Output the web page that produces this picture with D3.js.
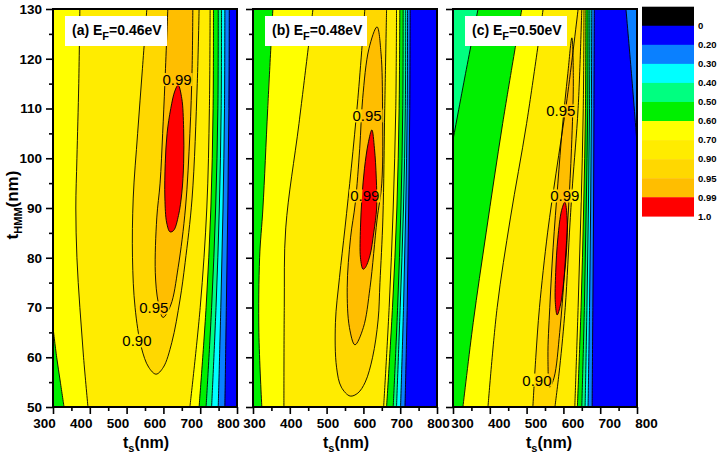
<!DOCTYPE html>
<html><head><meta charset="utf-8">
<script src="https://cdn.jsdelivr.net/npm/d3@7"></script>
<style>
body{margin:0;background:#fff}
svg{display:block}
text{font-family:"Liberation Sans",Arial,Helvetica,sans-serif}
</style>
</head><body>
<svg id="chart" width="720" height="460"></svg>
<script>
// ---------------- data ----------------
const tsTicks = [300, 400, 500, 600, 700, 800];
const tsMinor = [350, 450, 550, 650, 750];
const tTicks = [50, 60, 70, 80, 90, 100, 110, 120, 130];
const tMinor = [55, 65, 75, 85, 95, 105, 115, 125];
const levelValues = [0.20, 0.30, 0.40, 0.50, 0.60, 0.70, 0.90, 0.95, 0.99];
const legendLabels = ["0", "0.20", "0.30", "0.40", "0.50", "0.60", "0.70", "0.90", "0.95", "0.99", "1.0"];
const panelTags = ["(a)", "(b)", "(c)"];
const fermiLevels = ["0.46", "0.48", "0.50"];

// contour boundaries (ts nm, tHMM nm), one region per entry
const contoursA = [
  {level: 0.20, runs: [[[779,130],[778,110],[775,90],[771,70],[767,50]]]},
  {level: 0.30, runs: [[[767,130],[766,110],[762,90],[756,70],[749,50]]]},
  {level: 0.40, runs: [[[758,130],[757,110],[752,90],[743,70],[731,50]]]},
  {level: 0.50, runs: [[[749,130],[748,110],[742,90],[731,70],[716,50]]]},
  {level: 0.60, runs: [[[736,130],[735,110],[729,90],[716,70],[697,50]],
                       [[330,50],[320,55],[310,60],[300,66]]]},
  {level: 0.70, runs: [[[727,130],[725,110],[718,90],[700,70],[672,50]],
                       [[395,50],[383,60],[373,70],[365,80],[362,90],[365,100],[370,115],[373,130]]]},
  {level: 0.90, runs: [[[697,130],[692,115],[678,92],[659,79],[645,71.5],[623,63],[600,58],[580,56.6],[560,58],[540,62],[523,70],[516,80],[518,92],[530,105],[543,118],[555,130]]]},
  {level: 0.95, runs: [[[680,130],[678,118],[672,105],[660,90],[640,78],[620,70.5],[599,68],[586,71],[578,77],[582,88],[591,95],[598,105],[604,115],[612,130]]]},
  {level: 0.99, runs: [[[640,114.7],[650,112],[655,106],[655,99],[650,93],[641,88.5],[628,85.5],[618,85.2],[609,87],[604,92],[605,99],[610,105],[620,110],[631,113.5]]]}
];
const contoursB = [
  {level: 0.20, runs: [[[727,130],[726,110],[723,90],[719,70],[713,50]]]},
  {level: 0.30, runs: [[[720,130],[719,110],[715,90],[709,70],[701,50]]]},
  {level: 0.40, runs: [[[715,130],[714,110],[709,90],[700,70],[690,50]]]},
  {level: 0.50, runs: [[[708,130],[707,110],[702,90],[693,70],[681,50]]]},
  {level: 0.60, runs: [[[699,130],[697,110],[691,90],[679,70],[663,50]],
                       [[324,50],[316,65],[318,80],[327,90],[340,110],[354,130]]]},
  {level: 0.70, runs: [[[690,130],[688,110],[681,90],[670,70],[655,50]],
                       [[384,50],[385,70],[389,86],[425,107],[463,130]]]},
  {level: 0.90, runs: [[[663,130],[658,110],[653,88],[645,75],[640,67.5],[625,60],[605,55],[585,52.8],[564,52.2],[540,54],[527,58],[524,67],[535,76],[550,86],[567,98],[585,112],[604,130]]]},
  {level: 0.95, runs: [[[637,126.4],[648,121],[652,110],[650,95],[637,87.6],[618,74],[600,66],[577,62.5],[562,66],[556,74],[565,84],[578,91],[590,102],[598,112],[615,122]]]},
  {level: 0.99, runs: [[[623,105.7],[630,102],[635,96],[636,90],[628,85],[618,80.5],[605,78],[599,77.7],[592,80],[592,86],[596,92],[603,98],[613,103]]]}
];
const contoursC = [
  {level: 0.20, runs: [[[684,130],[683,110],[682,90],[680,70],[678,50]]]},
  {level: 0.20, runs: [[[800,103],[785,117],[770,130]]]},
  {level: 0.30, runs: [[[677,130],[676,110],[674,90],[671,70],[667,50]]]},
  {level: 0.40, runs: [[[672,130],[671,110],[668,90],[664,70],[659,50]]]},
  {level: 0.50, runs: [[[667,130],[666,110],[662,90],[657,70],[650,50]],
                       [[300,103.7],[334,117],[368,130]]]},
  {level: 0.60, runs: [[[661,130],[660,110],[655,90],[648,70],[638,50]],
                       [[327,50],[355,67],[390,85],[435,107],[487,130]]]},
  {level: 0.70, runs: [[[656,130],[654,110],[648,90],[640,70],[631,50]],
                       [[395,50],[420,70],[456,88],[500,107],[545,130]]]},
  {level: 0.90, runs: [[[650,130],[640,110],[625,95],[618,87],[605,70],[590,58],[577,50]],
                       [[517,50],[525,60],[535,70],[557,85],[580,97],[610,112],[640,130]]]},
  {level: 0.95, runs: [[[623,124.2],[627,116],[622,102],[614,90],[603,77],[590,65],[575,56],[563,54],[558,60],[563,70],[572,82],[585,95],[597,106],[612,117]]]},
  {level: 0.99, runs: [[[604,91.2],[610,88],[609,82],[602,76],[592,70.5],[583,68.5],[578,71],[579,77],[585,84],[595,89.5]]]}
];

// contour value labels (text, ts, tHMM)
const labelsA = [{text: "0.99", ts: 637, t: 115.8}, {text: "0.95", ts: 574, t: 69.9}, {text: "0.90", ts: 528, t: 63.3}];
const labelsB = [{text: "0.95", ts: 610, t: 108.5}, {text: "0.99", ts: 604, t: 92.4}];
const labelsC = [{text: "0.95", ts: 593, t: 109.5}, {text: "0.99", ts: 604, t: 92.4}, {text: "0.90", ts: 528, t: 55.4}];

// ---------------- styles / layout ----------------
const bandColors = ["#000000", "#0000FF", "#0A80FF", "#00FFFF", "#00FF80", "#00F000",
                    "#FFFF00", "#FFEC00", "#FFD800", "#FFBE00", "#FF0000"];
const panelLeft = [53, 253, 453];
const tickLabelShift = [-9, 1, 9];
const panelW = 184, panelTop = 9, panelBottom = 407;

// ---------------- drawing ----------------
const svg = d3.select("#chart");
const y = d3.scaleLinear().domain([50, 130]).range([panelBottom, panelTop]);
const lineOpen = d3.line().curve(d3.curveCatmullRom.alpha(0.5));
const lineClosed = d3.line().curve(d3.curveCatmullRomClosed.alpha(0.5));
const cornerPts = [[300,130],[800,130],[800,50],[300,50]];

function sOf(p) {
  const [a, b] = p;
  if (b >= 130) return (a - 300) / 500;
  if (a >= 800) return 1 + (130 - b) / 80;
  if (b <= 50) return 2 + (800 - a) / 500;
  if (a <= 300) return 3 + (b - 50) / 80;
  return null;
}
function walk(s1, s2) {
  const e = s2 <= s1 ? s2 + 4 : s2;
  const out = [];
  for (let k = Math.floor(s1) + 1; k < e; k++) out.push(cornerPts[k % 4]);
  return out;
}
function isClosed(runs) { return runs.length === 1 && sOf(runs[0][0]) === null; }
function regionPath(runs, x) {
  if (isClosed(runs)) return lineClosed(runs[0].map(p => [x(p[0]), y(p[1])]));
  let d = "";
  runs.forEach((run, k) => {
    let s = lineOpen(run.map(p => [x(p[0]), y(p[1])]));
    if (k > 0) s = "L" + s.slice(1);
    d += s;
    const next = runs[(k + 1) % runs.length];
    walk(sOf(run[run.length - 1]), sOf(next[0])).forEach(c => { d += "L" + x(c[0]) + "," + y(c[1]); });
  });
  return d + "Z";
}

const panels = [
  {contours: contoursA, labels: labelsA},
  {contours: contoursB, labels: labelsB},
  {contours: contoursC, labels: labelsC}
];
const defs = svg.append("defs");

panels.forEach((p, i) => {
  const x0 = panelLeft[i];
  const x = d3.scaleLinear().domain([300, 800]).range([x0, x0 + panelW]);
  defs.append("clipPath").attr("id", "clip" + i)
    .append("rect").attr("x", x0).attr("y", panelTop).attr("width", panelW).attr("height", panelBottom - panelTop);

  const g = svg.append("g").attr("clip-path", "url(#clip" + i + ")");
  g.append("rect").attr("x", x0).attr("y", panelTop).attr("width", panelW).attr("height", panelBottom - panelTop)
    .attr("fill", bandColors[1]);
  const sorted = p.contours.slice().sort((a, b) => a.level - b.level);
  g.selectAll("path.fill").data(sorted).join("path").attr("class", "fill")
    .attr("d", c => regionPath(c.runs, x))
    .attr("fill", c => bandColors[levelValues.indexOf(c.level) + 2]);

  // contour labels (measured first for the mask)
  const lg = svg.append("g");
  const lbl = lg.selectAll("text").data(p.labels).join("text")
    .attr("x", d => x(d.ts)).attr("y", d => y(d.t)).attr("dy", "0.36em")
    .attr("text-anchor", "middle").attr("font-size", 15).attr("fill", "#000")
    .text(d => d.text);

  const mask = defs.append("mask").attr("id", "mask" + i).attr("maskUnits", "userSpaceOnUse")
    .attr("x", 0).attr("y", 0).attr("width", 720).attr("height", 460);
  mask.append("rect").attr("x", 0).attr("y", 0).attr("width", 720).attr("height", 460).attr("fill", "#fff");
  lbl.each(function () {
    const b = this.getBBox();
    mask.append("rect").attr("x", b.x - 1).attr("y", b.y + 2).attr("width", b.width + 2).attr("height", b.height - 4).attr("fill", "#000");
  });

  const lines = g.append("g").attr("mask", "url(#mask" + i + ")");
  sorted.forEach(c => {
    const closed = isClosed(c.runs);
    c.runs.forEach(run => {
      const pts = run.map(q => [x(q[0]), y(q[1])]);
      lines.append("path").attr("d", closed ? lineClosed(pts) : lineOpen(pts))
        .attr("fill", "none").attr("stroke", "#000").attr("stroke-width", 0.9);
    });
  });
  lg.raise();

  // panel tag box
  svg.append("rect").attr("x", x0 + 12).attr("y", 16).attr("width", 102).attr("height", 30).attr("fill", "#fff");
  const tag = svg.append("text").attr("x", x0 + 19).attr("y", 35).attr("font-size", 14).attr("font-weight", "bold");
  tag.append("tspan").text(panelTags[i] + " E");
  tag.append("tspan").attr("dy", 5).attr("font-size", 11).text("F");
  tag.append("tspan").attr("dy", -5).text("=" + fermiLevels[i] + "eV");

  // axes
  const axB = svg.append("g").attr("transform", "translate(0," + panelBottom + ")")
    .call(d3.axisBottom(x).tickValues(tsTicks).tickSize(7).tickPadding(4).tickFormat(d3.format("d")));
  axB.selectAll("text").attr("dx", tickLabelShift[i]);
  const axBm = svg.append("g").attr("transform", "translate(0," + panelBottom + ")")
    .call(d3.axisBottom(x).tickValues(tsMinor).tickSize(4).tickFormat(""));
  const axL = svg.append("g").attr("transform", "translate(" + x0 + ",0)")
    .call(d3.axisLeft(y).tickValues(tTicks).tickSize(7).tickPadding(4).tickFormat(i === 0 ? d3.format("d") : ""));
  const axLm = svg.append("g").attr("transform", "translate(" + x0 + ",0)")
    .call(d3.axisLeft(y).tickValues(tMinor).tickSize(4).tickFormat(""));
  [axB, axBm, axL, axLm].forEach(a => {
    a.select(".domain").remove();
    a.selectAll("line").attr("stroke", "#000").attr("stroke-width", 1.6);
    a.selectAll("text").attr("font-size", 13.5).attr("font-weight", "bold").attr("fill", "#000")
      .style("font-family", "'Liberation Sans',Arial,sans-serif");
  });

  svg.append("rect").attr("x", x0).attr("y", panelTop).attr("width", panelW).attr("height", panelBottom - panelTop)
    .attr("fill", "none").attr("stroke", "#000").attr("stroke-width", 2);

  // x title
  const xt = svg.append("text").attr("x", x0 + panelW / 2 + (i === 2 ? 4 : 1)).attr("y", 448).attr("text-anchor", "middle")
    .attr("font-size", 16).attr("font-weight", "bold");
  xt.append("tspan").text("t");
  xt.append("tspan").attr("dy", 4).attr("font-size", 11).text("s");
  xt.append("tspan").attr("dy", -4).text("(nm)");
});

// y title
const yt = svg.append("text").attr("transform", "translate(18,205) rotate(-90)").attr("text-anchor", "middle")
  .attr("font-size", 17).attr("font-weight", "bold");
yt.append("tspan").text("t");
yt.append("tspan").attr("dy", 4).attr("font-size", 11).text("HMM");
yt.append("tspan").attr("dy", -4).text("(nm)");

// legend
const legY = d3.scaleLinear().domain([0, bandColors.length]).range([6.7, 216.3]);
const leg = svg.append("g");
leg.selectAll("rect").data(bandColors).join("rect")
  .attr("x", 642).attr("width", 52)
  .attr("y", (d, k) => legY(k)).attr("height", (d, k) => legY(k + 1) - legY(k) + 0.3)
  .attr("fill", d => d);
leg.selectAll("text").data(legendLabels).join("text")
  .attr("x", 698).attr("y", (d, k) => legY(k + 1)).attr("dy", "0.35em")
  .attr("font-size", 9.5).attr("font-weight", "bold").text(d => d);
</script>
</body></html>
